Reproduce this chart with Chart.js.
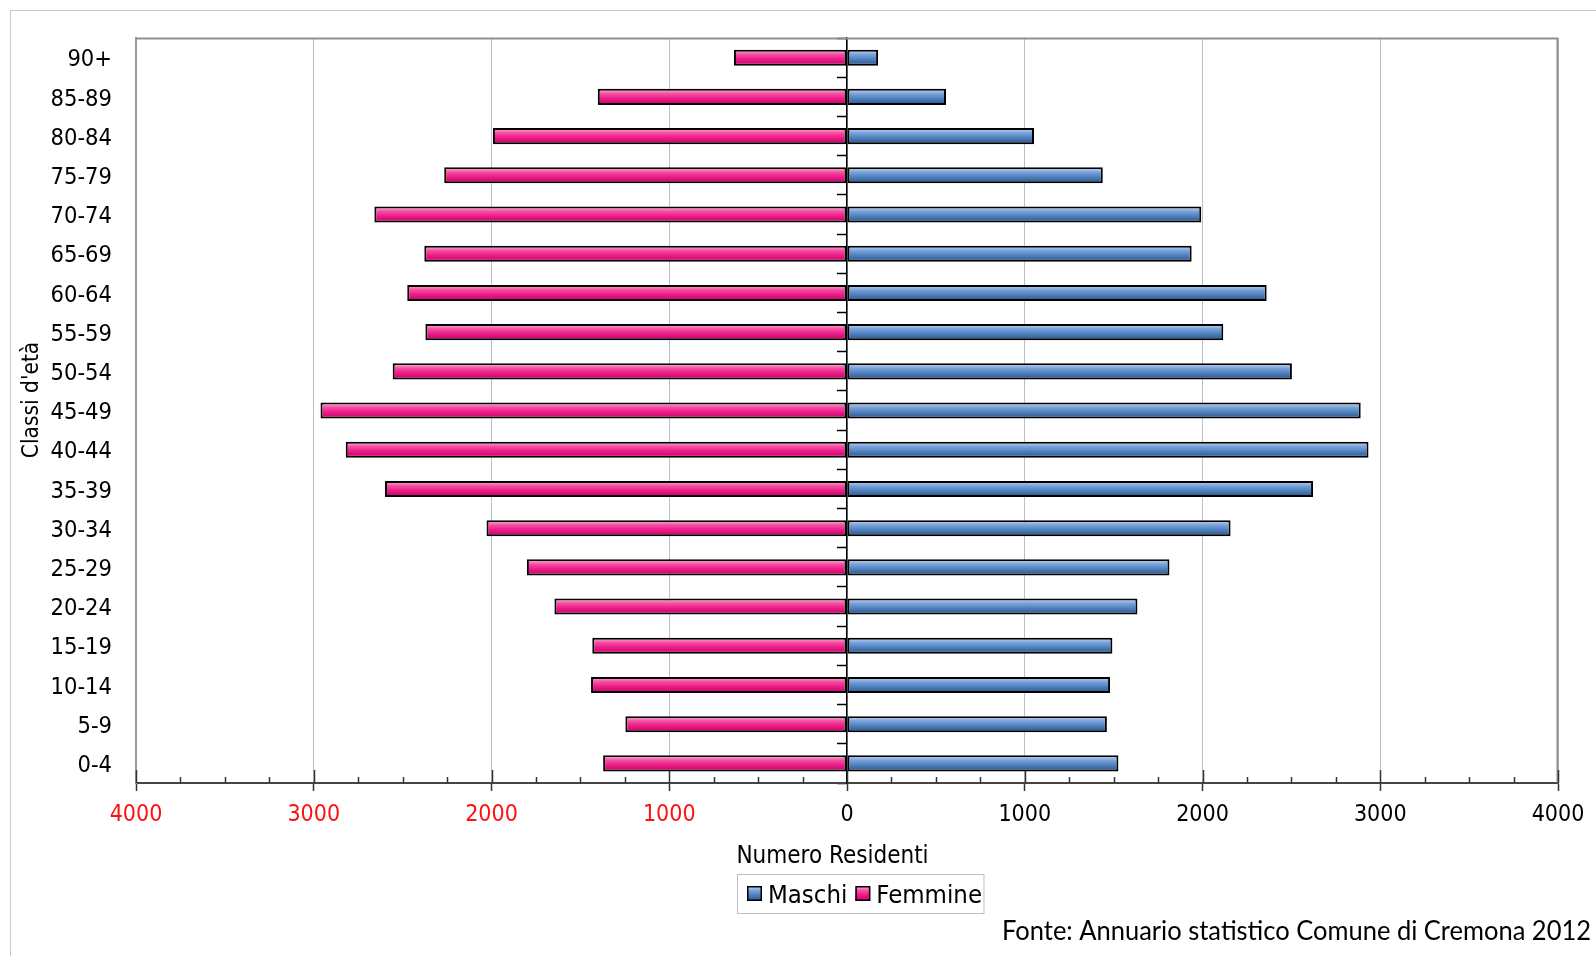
<!DOCTYPE html>
<html>
<head>
<meta charset="utf-8">
<script src="https://cdn.jsdelivr.net/npm/chart.js@4.4.1/dist/chart.umd.min.js"></script>
<style>
  html, body { margin: 0; padding: 0; background: #fff; }
  #wrap { position: relative; width: 1596px; height: 956px; overflow: hidden; }
  #frame { position: absolute; left: 10px; top: 10px; width: 1600px; height: 960px; border: 1px solid #c8c8c8; pointer-events: none; }
  canvas { position: absolute; left: 0; top: 0; }
</style>
</head>
<body>
<div id="wrap"><canvas id="c" width="1596" height="956"></canvas><div id="frame"></div></div>
<script>
// ---------------- DATA ----------------
const ageClasses = ['0-4','5-9','10-14','15-19','20-24','25-29','30-34','35-39','40-44','45-49',
                    '50-54','55-59','60-64','65-69','70-74','75-79','80-84','85-89','90+'];
const maschi  = [1527,1462,1480,1493,1634,1814,2158,2622,2934,2890,2503,2117,2361,1939,1993,1439,1052,557,175];
const femmine = [1372,1247,1440,1433,1646,1801,2028,2599,2820,2962,2556,2372,2474,2378,2659,2266,1992,1402,636];
const xTickValues = [-4000,-3000,-2000,-1000,0,1000,2000,3000,4000];
const seriesNames = ['Maschi','Femmine'];
const axisTitleX = 'Numero Residenti';
const axisTitleY = "Classi d'età";
const sourceNote = 'Fonte: Annuario statistico Comune di Cremona 2012';

// ---------------- STYLE ----------------
const FONT = "'DejaVu Sans Condensed', Roboto, 'DejaVu Sans', sans-serif";
const BAR_PCT = 0.41;
const blueStops = [[0,'#c9dbf3'],[0.3,'#7aa3db'],[0.6,'#4f81bd'],[1,'#2a5185']];
const pinkStops = [[0,'#ffb8dc'],[0.3,'#f54fa3'],[0.6,'#ec1c86'],[1,'#c4006a']];

function gradFill(stops, solid) {
  return (c) => {
    const chart = c.chart;
    if (c.type !== 'data' || !chart.chartArea || !chart.scales.y) return solid;
    const ys = chart.scales.y;
    const yc = ys.getPixelForValue(c.dataIndex);
    const half = (ys.height / ageClasses.length) * BAR_PCT / 2;
    const g = chart.ctx.createLinearGradient(0, yc - half, 0, yc + half);
    stops.forEach(([o, col]) => g.addColorStop(o, col));
    return g;
  };
}

const decor = {
  id: 'decor',
  beforeDatasetsDraw(chart) {
    const { ctx, chartArea: a, scales: { x } } = chart;
    ctx.save();
    ctx.strokeStyle = '#8f8f8f';
    ctx.lineWidth = 2;
    ctx.beginPath();
    ctx.moveTo(a.left, a.top + 0.5);
    ctx.lineTo(a.right - 0.5, a.top + 0.5);
    ctx.lineTo(a.right - 0.5, a.bottom);
    ctx.stroke();
    ctx.strokeStyle = '#333';
    ctx.lineWidth = 1.5;
    const lo = xTickValues[0], hi = xTickValues[xTickValues.length - 1];
    for (let v = lo; v <= hi; v += 250) {
      const px = Math.round(x.getPixelForValue(v)) + 0.5;
      const len = (v % 1000 === 0) ? 13 : 6;
      ctx.beginPath();
      ctx.moveTo(px, a.bottom);
      ctx.lineTo(px, a.bottom - len);
      ctx.stroke();
    }
    ctx.restore();
  },
  afterDraw(chart) {
    const { ctx } = chart;
    ctx.save();
    ctx.fillStyle = '#000';
    ctx.font = `24px ${FONT}`;
    ctx.textAlign = 'center';
    ctx.textBaseline = 'alphabetic';
    ctx.fillText(axisTitleX, 832.5, 863);
    ctx.save();
    ctx.translate(38, 400);
    ctx.rotate(-Math.PI / 2);
    ctx.font = `22.5px ${FONT}`;
    ctx.textAlign = 'center';
    ctx.fillText(axisTitleY, 0, 0);
    ctx.restore();
    // legend
    ctx.font = `25.5px ${FONT}`;
    ctx.textAlign = 'left';
    let lx = 747;
    const sy = 886, sz = 15;
    const stopsArr = [blueStops, pinkStops];
    chart.data.datasets.forEach((ds, i) => {
      const g = ctx.createLinearGradient(0, sy, 0, sy + sz);
      stopsArr[i].forEach(([o, col]) => g.addColorStop(o, col));
      ctx.fillStyle = g;
      ctx.fillRect(lx, sy, sz, sz);
      ctx.strokeStyle = '#000';
      ctx.lineWidth = 1.5;
      ctx.strokeRect(lx + 0.75, sy + 0.75, sz - 1.5, sz - 1.5);
      lx += sz + 6;
      ctx.fillStyle = '#000';
      ctx.fillText(ds.label, lx, 902.5);
      lx += ctx.measureText(ds.label).width + 8;
    });
    ctx.strokeStyle = '#c0c0c0';
    ctx.lineWidth = 1;
    ctx.strokeRect(737.5, 874.5, (lx - 8 + 2) - 737.5, 39);
    // source note
    ctx.font = `26px Lato, 'Open Sans', sans-serif`;
    const w = ctx.measureText(sourceNote).width;
    const targetW = 589;
    ctx.save();
    ctx.translate(1002, 940.3);
    ctx.scale(targetW / w, 1);
    ctx.fillStyle = '#000';
    ctx.textAlign = 'left';
    ctx.fillText(sourceNote, 0, 0);
    ctx.restore();
    ctx.restore();
  }
};

new Chart(document.getElementById('c'), {
  type: 'bar',
  data: {
    labels: ageClasses,
    datasets: [
      {
        label: seriesNames[0],
        data: maschi,
        backgroundColor: gradFill(blueStops, '#4f81bd'),
        borderColor: '#000',
        borderWidth: 2,
        borderSkipped: false,
        barPercentage: BAR_PCT,
        categoryPercentage: 1.0
      },
      {
        label: seriesNames[1],
        data: femmine.map(v => -v),
        backgroundColor: gradFill(pinkStops, '#ec1c86'),
        borderColor: '#000',
        borderWidth: 2,
        borderSkipped: false,
        barPercentage: BAR_PCT,
        categoryPercentage: 1.0
      }
    ]
  },
  options: {
    indexAxis: 'y',
    responsive: false,
    animation: false,
    devicePixelRatio: 1,
    layout: { padding: { left: 0, right: 38, top: 37, bottom: 123 } },
    plugins: {
      legend: { display: false },
      tooltip: { enabled: false },
      title: { display: false }
    },
    scales: {
      x: {
        type: 'linear',
        min: -4000, max: 4000,
        stacked: true,
        afterBuildTicks: (s) => { s.ticks = xTickValues.map(v => ({ value: v })); },
        ticks: {
          callback: (v) => String(Math.abs(v)),
          color: (c) => (c.tick && c.tick.value < 0) ? '#ff1010' : '#000',
          font: { family: FONT, size: 23 },
          padding: 10,
          maxRotation: 0,
          autoSkip: false
        },
        grid: { color: '#b7c0d2', lineWidth: 1, drawTicks: true, tickLength: 8, tickColor: '#333', tickWidth: 1.5 },
        border: { display: true, color: '#444', width: 2 },
        afterFit: (s) => { s.height = 50; }
      },
      y: {
        type: 'category',
        stacked: true,
        reverse: true,
        position: 'left',
        grid: { display: false, drawTicks: false },
        border: { display: true, color: '#9a9a9a', width: 2 },
        ticks: { font: { family: FONT, size: 23.5 }, color: '#000', padding: 24, labelOffset: 2.5, autoSkip: false },
        afterFit: (s) => { s.width = 136; }
      },
      y2: {
        type: 'category',
        reverse: true,
        position: { x: 0 },
        offset: true,
        grid: { drawOnChartArea: false, offset: true, drawTicks: true, tickLength: 9, color: '#000', tickWidth: 1.5 },
        ticks: { display: false },
        border: { display: true, color: '#000', width: 1.5 }
      }
    }
  },
  plugins: [decor]
});
</script>
</body>
</html>
